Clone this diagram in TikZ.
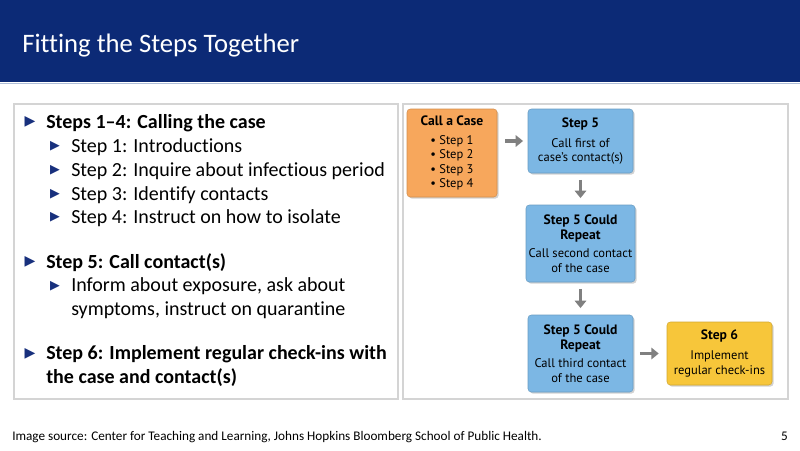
\documentclass[tikz,border=0pt]{standalone}
\usepackage{fontspec}
\setmainfont[Ligatures=NoCommon]{Carlito}
\newfontfamily\boxfont{PT Sans}
\newfontfamily\symfont{DejaVu Sans}
\definecolor{navyband}{RGB}{12,42,118}
\definecolor{bandline}{RGB}{175,190,215}
\definecolor{bulletblue}{RGB}{24,48,125}
\definecolor{panelgray}{RGB}{212,212,212}
\definecolor{casefill}{RGB}{247,167,92}
\definecolor{contactfill}{RGB}{124,183,228}
\definecolor{checkfill}{RGB}{247,198,58}
\definecolor{arrowgray}{RGB}{128,128,128}
\usetikzlibrary{arrows.meta,positioning,shadows}
\newcommand{\boxhead}[1]{{\bfseries\fontsize{10.2}{12}\selectfont #1}}

\begin{document}
\begin{tikzpicture}[x=0.75pt,y=-0.75pt,
  bigbul/.style={inner sep=0, text=bulletblue, font=\symfont\fontsize{10.5}{10.5}\selectfont},
  smallbul/.style={inner sep=0, text=bulletblue, font=\symfont\fontsize{9.5}{9.5}\selectfont},
  item/.style={anchor=base west, inner sep=0, align=left,
               font=\fontsize{15}{17.8}\selectfont},
  stepbox/.style={draw=#1!85!black, fill=#1, rounded corners=2.5pt,
                  align=center, inner sep=2pt,
                  font=\boxfont\fontsize{9.4}{10.9}\selectfont,
                  drop shadow={opacity=0.35, shadow xshift=1.2pt, shadow yshift=-1.2pt}},
  flow/.style={arrowgray, line width=2.3pt, -{Triangle[length=5.5pt,width=8.5pt]}}]

  \useasboundingbox (0,0) rectangle (800,450);
  \fill[white] (0,0) rectangle (800,450);

  % title band
  \fill[navyband] (0,0) rectangle (800,82);
  \draw[bandline, line width=0.8pt] (0,83.5) -- (800,83.5);
  \node[anchor=base west, inner sep=0, text=white, font=\fontsize{20}{22}\selectfont]
    (title) at (22,52) {Fitting the Steps Together};

  % two panels
  \draw[panelgray, line width=0.8pt] (14,104) rectangle (398,399);
  \draw[panelgray, line width=0.8pt] (403,104) rectangle (788,399);

  % left panel: bullet list (two-line items sit on their last baseline)
  \node[bigbul] (b1) at (30,122) {▶};
  \node[item] (i1) at (46,128) {\textbf{Steps 1–4: Calling the case}};
  \foreach \y/\txt [count=\k] in {152/{Step 1: Introductions},
      176/{Step 2: Inquire about infectious period},
      200/{Step 3: Identify contacts},
      223/{Step 4: Instruct on how to isolate}} {
    \node[smallbul] (sb\k) at (55,\y-6) {▶};
    \node[item] (s\k) at (71,\y) {\txt};
  }
  \node[bigbul] (b2) at (30,262) {▶};
  \node[item] (i2) at (46,268) {\textbf{Step 5: Call contact(s)}};
  \node[smallbul] (sb5) at (55,286) {▶};
  \node[item] (s5) at (71,315) {Inform about exposure, ask about\\symptoms, instruct on quarantine};
  \node[bigbul] (b3) at (30,354) {▶};
  \node[item] (i3) at (46,383) {\textbf{Step 6: Implement regular check-ins with}\\\textbf{the case and contact(s)}};

  % right panel: flow of calls
  \node[stepbox=casefill, minimum width=90*0.75pt, minimum height=88*0.75pt]
    (case) at (452,153) {\boxhead{Call a Case}\\[3pt]
      \textbullet\ Step 1\\\textbullet\ Step 2\\\textbullet\ Step 3\\\textbullet\ Step 4};
  \node[stepbox=contactfill, minimum width=105*0.75pt, minimum height=64*0.75pt]
    (first) at (580.5,141) {\boxhead{Step 5}\\[4pt]
      Call first of\\case’s contact(s)};
  \node[stepbox=contactfill, minimum width=105*0.75pt, minimum height=77*0.75pt]
    (second) at (580.5,243.5) {\boxhead{Step 5 Could}\\\boxhead{Repeat}\\[3pt]
      Call second contact\\of the case};
  \node[stepbox=contactfill, minimum width=105*0.75pt, minimum height=77*0.75pt]
    (third) at (580.5,353.5) {\boxhead{Step 5 Could}\\\boxhead{Repeat}\\[3pt]
      Call third contact\\of the case};
  \node[stepbox=checkfill, minimum width=105*0.75pt, minimum height=63*0.75pt]
    (checkin) at (719.5,353.5) {\boxhead{Step 6}\\[4pt]
      Implement\\regular check-ins};

  \draw[flow, shorten <=6pt, shorten >=3.5pt] (case.east |- first) -- (first.west);
  \draw[flow, shorten <=5pt, shorten >=5pt] (first) -- (second);
  \draw[flow, shorten <=5pt, shorten >=5pt] (second) -- (third);
  \draw[flow, shorten <=5pt, shorten >=6pt] (third) -- (checkin);

  % footer
  \node[anchor=base west, inner sep=0, font=\fontsize{9.9}{11}\selectfont]
    (source) at (12,440) {Image source: Center for Teaching and Learning, Johns Hopkins Bloomberg School of Public Health.};
  \node[anchor=base east, inner sep=0, font=\fontsize{9.9}{11}\selectfont]
    (page) at (788,440) {5};
\end{tikzpicture}
\end{document}
